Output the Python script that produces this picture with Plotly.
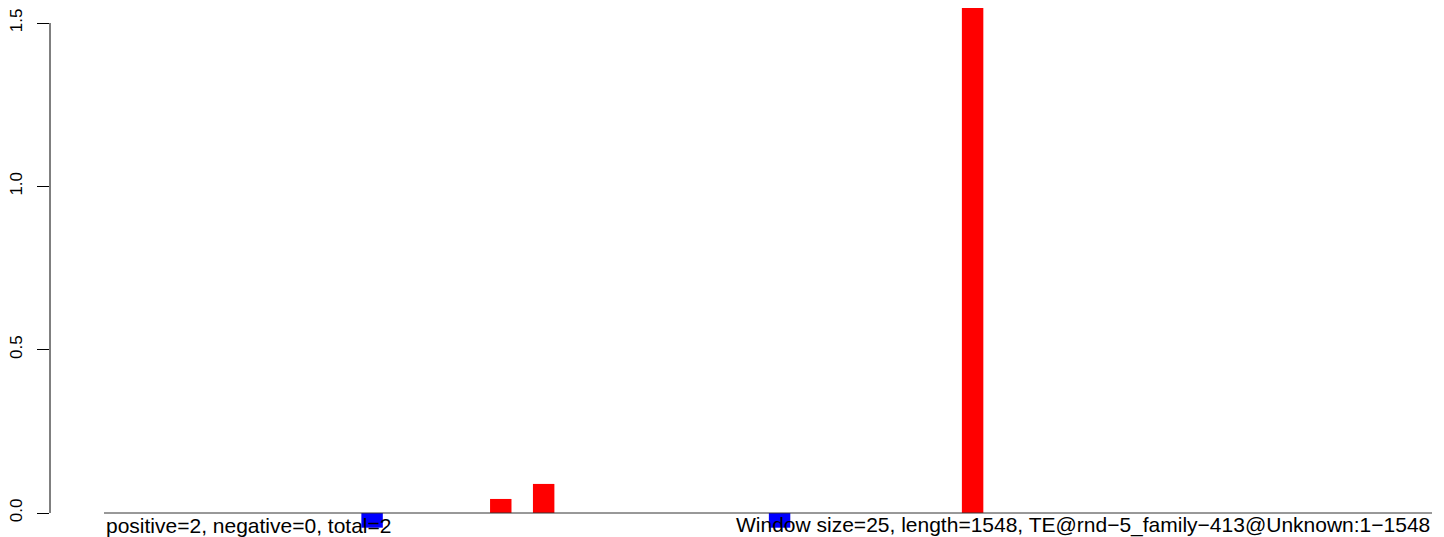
import plotly.graph_objects as go

# window layout
window_size = 25
seq_length = 1548

# windows (0-based index) with positive / negative scores
pos_windows = [18, 20, 40]
pos_values = [0.043, 0.089, 1.9]
neg_windows = [12, 31]
neg_values = [-0.045, -0.045]

y_tickvals = [0.0, 0.5, 1.0, 1.5]
y_ticktext = ["0.0", "0.5", "1.0", "1.5"]

left_label = "positive=2, negative=0, total=2"
right_label = "Window size=25, length=1548, TE@rnd\u22125_family\u2212413@Unknown:1\u22121548"

# the page body has an 8px margin, so the figure sits 8px in from the corner
OFF = 8
W, H = 1444 - OFF, 537 - OFF
# pixel geometry of the R plot region (figure coordinates)
x0_px, x1_px = 104 - OFF, 1432 - OFF
axis_px = 50 - OFF
y0_px, y15_px = 513 - OFF, 23 - OFF

bp_per_px = seq_length / (x1_px - x0_px)
x_range = [-(x0_px - axis_px) * bp_per_px, seq_length + (W - x1_px) * bp_per_px]
unit_per_px = 1.5 / (y0_px - y15_px)
y_range = [-(H - y0_px) * unit_per_px, y0_px * unit_per_px]
label_y = -12 * unit_per_px


def centers(idx):
    return [i * window_size + window_size / 2 for i in idx]


fig = go.Figure()
fig.add_trace(go.Bar(x=centers(pos_windows), y=pos_values, width=window_size,
                     marker=dict(color="#ff0000", line=dict(width=0)), showlegend=False))
fig.add_trace(go.Bar(x=centers(neg_windows), y=neg_values, width=window_size,
                     marker=dict(color="#0000ff", line=dict(width=0)), showlegend=False))

# baseline
fig.add_shape(type="line", xref="x", yref="y", x0=0, x1=seq_length, y0=0, y1=0,
              line=dict(color="#333333", width=1), layer="above")
# y axis line, R style (only between extreme ticks)
fig.add_shape(type="line", xref="paper", yref="y", x0=0, x1=0, y0=0, y1=1.5,
              line=dict(color="black", width=1))

fig.add_annotation(x=0, y=label_y, xref="x", yref="y", text=left_label, showarrow=False,
                   xanchor="left", yanchor="middle", font=dict(size=21, color="black"))
fig.add_annotation(x=seq_length, y=label_y, xref="x", yref="y", text=right_label, showarrow=False,
                   xanchor="right", yanchor="middle", font=dict(size=21, color="black"))

fig.update_xaxes(range=x_range, visible=False, fixedrange=True, automargin=False)
fig.update_yaxes(range=y_range, tickvals=y_tickvals, ticktext=y_ticktext, tickangle=-90,
                 ticks="outside", ticklen=12, tickcolor="black", tickwidth=1,
                 showgrid=False, zeroline=False, showline=False, automargin=False,
                 tickfont=dict(size=17, color="black"), ticklabelstandoff=8)

fig.update_layout(width=W, height=H, margin=dict(l=axis_px, r=0, t=0, b=0),
                  paper_bgcolor="white", plot_bgcolor="white", barmode="overlay",
                  font=dict(family="Liberation Sans, Arial, sans-serif"))

fig.write_html("out.html")
